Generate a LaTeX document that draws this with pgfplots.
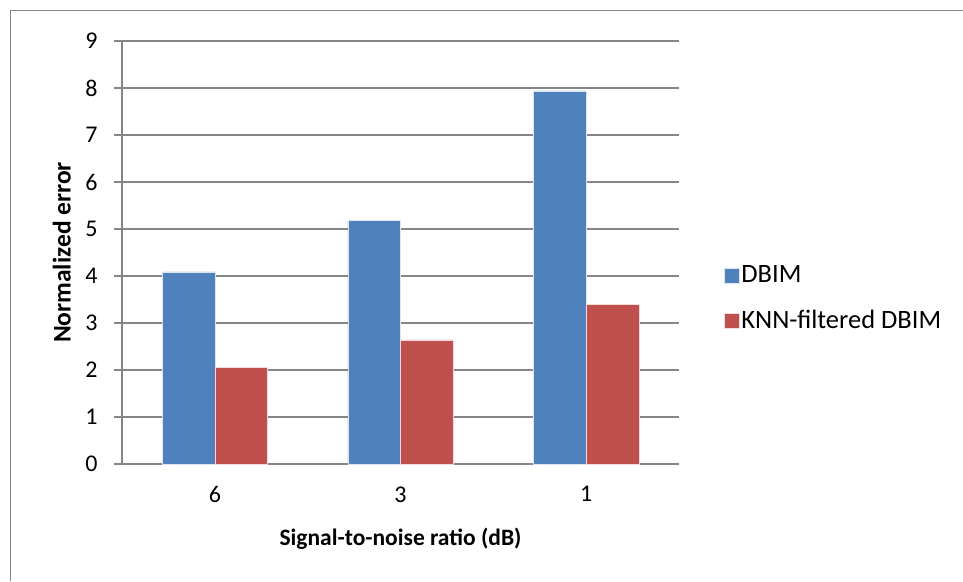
\documentclass[border=0pt]{standalone}
\usepackage{pgfplots}
\pgfplotsset{compat=1.18}
\usepackage{fontspec}
\setmainfont{Carlito}
\definecolor{dbim}{HTML}{4F81BD}
\definecolor{knn}{HTML}{C0504D}
\definecolor{axgray}{HTML}{868686}
\newcommand{\tickf}{\fontsize{24}{28}\selectfont}
\begin{document}
\begin{tikzpicture}[x=1pt,y=1pt]
\path[use as bounding box] (0,0) rectangle (963,581);
\draw[axgray,line width=1.2pt] (10.5,0) -- (10.5,570.5) -- (963,570.5);
\begin{axis}[
  at={(122pt,117pt)}, anchor=south west,
  scale only axis, width=557pt, height=423pt,
  /pgf/number format/assume math mode=true,
  ymin=0, ymax=9, ytick={0,...,9},
  xmin=-0.5, xmax=2.5,
  xtick={0,1,2}, xticklabels={6,3,1},
  major x tick style={draw=none},
  extra x ticks={-0.5,0.5,1.5,2.5},
  extra x tick labels={},
  extra x tick style={major tick length=8pt, tick style={axgray, line width=1.2pt}},
  tick align=outside,
  major tick length=8pt,
  ytick style={axgray, line width=1.2pt},
  ymajorgrids, grid style={axgray, line width=1.2pt},
  axis x line*=bottom, axis y line*=left,
  axis line style={axgray, line width=1.2pt, -},
  ticklabel style={font=\tickf},
  xticklabel style={yshift=-11pt},
  yticklabel style={xshift=-13pt},
  ybar, bar width=0.2835,
  xlabel={\bfseries Signal-to-noise ratio (dB)},
  ylabel={\bfseries Normalized error},
  xlabel style={font=\fontsize{23.5}{28}\selectfont, at={(axis description cs:0.5,-0.176)}, anchor=center},
  ylabel style={font=\fontsize{25.5}{30}\selectfont, at={(axis description cs:-0.108,0.5)}, anchor=center},
  legend style={at={(1.075,0.392)}, anchor=west, draw=none, fill=none,
    row sep=22pt, font=\fontsize{26.5}{30}\selectfont},
  legend cell align=left,
  legend image code/.code={\fill[#1] (0pt,-7.5pt) rectangle (15pt,7.5pt);},
  clip=false,
]
\addplot[fill=dbim, draw=white!80!dbim, bar shift=-0.14175] coordinates {(0,4.09) (1,5.18) (2,7.94)};
\addplot[fill=knn, draw=white!80!knn, bar shift=0.14175] coordinates {(0,2.06) (1,2.64) (2,3.40)};
\legend{DBIM, KNN-filtered DBIM}
\end{axis}
\end{tikzpicture}
\end{document}
